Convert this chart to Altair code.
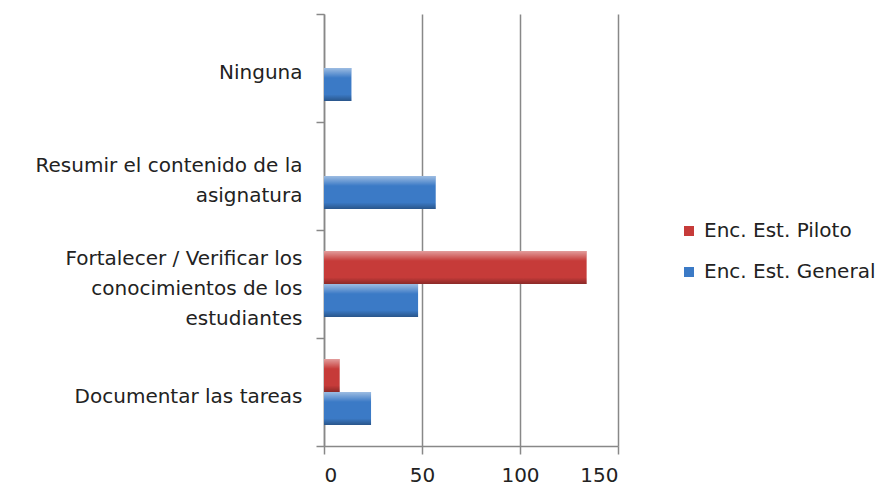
import altair as alt
import pandas as pd

categories = [
    "Ninguna",
    "Resumir el contenido de la\nasignatura",
    "Fortalecer / Verificar los\nconocimientos de los\nestudiantes",
    "Documentar las tareas",
]
series = ["Enc. Est. Piloto", "Enc. Est. General"]
piloto = [0, 0, 134, 8]
general = [14, 57, 48, 24]
colors = ["#C63B39", "#3B7AC6"]

rows = []
for c, p, g in zip(categories, piloto, general):
    rows.append({"cat": c, "serie": series[0], "val": p})
    rows.append({"cat": c, "serie": series[1], "val": g})
df = pd.DataFrame(rows)

FONT = "DejaVu Sans"

y_enc = alt.Y("cat:N", sort=categories, title=None,
              scale=alt.Scale(paddingInner=0, paddingOuter=0),
              axis=alt.Axis(labelExpr="split(datum.label, '\\n')", labelAlign="right",
                            labelFontSize=20, labelFont=FONT, labelColor="#222",
                            labelPadding=14, labelLineHeight=30, labelLimit=400,
                            labelOffset={"expr": "-15*(length(split(datum.label, '\\n'))-1)+4"},
                            tickBand="extent", tickSize=8, tickColor="#888", tickWidth=1.5,
                            domainColor="#888", domainWidth=1.5, grid=False))
yoff_enc = alt.YOffset("serie:N", sort=series,
                       scale=alt.Scale(paddingInner=0, paddingOuter=0.636))
x_enc = alt.X("val:Q", title=None,
              scale=alt.Scale(domain=[0, 150], nice=False),
              axis=alt.Axis(values=[0, 50, 100, 150], labelFontSize=20, labelFont=FONT,
                            labelColor="#222", labelPadding=11,
                            tickSize=8, tickColor="#888", tickWidth=1.5,
                            domainColor="#888", domainWidth=1.5,
                            grid=True, gridColor="#888", gridWidth=1.5))

base = alt.Chart(df).mark_bar().encode(
    y=y_enc, yOffset=yoff_enc, x=x_enc,
    color=alt.Color("serie:N", sort=series,
                    scale=alt.Scale(domain=series, range=colors),
                    legend=alt.Legend(title=None, orient="none", legendX=355, legendY=207,
                                      symbolType="square", symbolSize=100,
                                      symbolStrokeWidth=0, labelFontSize=20,
                                      labelFont=FONT, labelColor="#222",
                                      rowPadding=21, labelOffset=5, labelLimit=400)),
)

bevel = {
    "gradient": "linear", "x1": 0, "y1": 0, "x2": 0, "y2": 1,
    "stops": [
        {"offset": 0, "color": "rgba(255,255,255,0.5)"},
        {"offset": 0.3, "color": "rgba(255,255,255,0.0)"},
        {"offset": 0.8, "color": "rgba(0,0,0,0.0)"},
        {"offset": 1, "color": "rgba(0,0,0,0.3)"},
    ],
}
overlay = alt.Chart(df).mark_bar(fill=bevel).encode(y=y_enc, yOffset=yoff_enc, x=x_enc)

chart = alt.layer(base, overlay).properties(
    width=294, height=432,
    autosize=alt.AutoSizeParams(type="none"),
    padding={"left": 316, "top": 6, "right": 263, "bottom": 39},
).configure(background="white").configure_view(stroke=None)

chart.save("out.html", embed_options={"renderer": "svg", "actions": False})
